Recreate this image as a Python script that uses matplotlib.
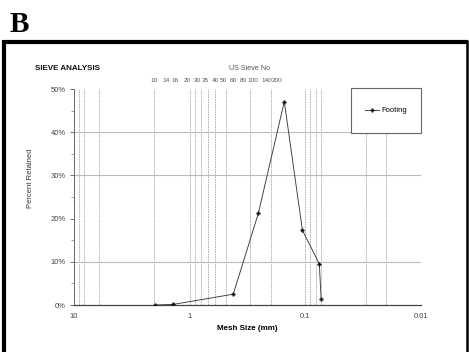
import numpy as np
import matplotlib
matplotlib.use("Agg")
import matplotlib.pyplot as plt
from matplotlib.lines import Line2D
from matplotlib.patches import Rectangle
from matplotlib.ticker import FixedLocator, NullFormatter

plt.rcParams['font.family'] = ['Liberation Sans', 'DejaVu Sans']

# ---- data ----
size_mm = [2.0, 1.38, 0.42, 0.255, 0.152, 0.106, 0.0757, 0.073]
retained_pct = [0.0, 0.15, 2.5, 21.2, 47.1, 17.3, 9.5, 1.4]
series_name = "Footing"

x_major = [10, 1, 0.1, 0.01]
x_major_labels = ["10", "1", "0.1", "0.01"]
x_grid_mm = [9.05, 8.19, 6.08, 2.03, 0.99, 0.90, 0.80, 0.69, 0.60, 0.49,
             0.30, 0.20, 0.10, 0.091, 0.081, 0.073, 0.030, 0.020, 0.01]
y_major = [0, 10, 20, 30, 40, 50]
y_major_labels = ["0%", "10%", "20%", "30%", "40%", "50%"]
y_minor = [5, 15, 25, 35, 45]
y_grid = [10, 30, 40]
sieve_labels = ["10", "14", "16", "20", "30", "35", "40", "50", "60", "80", "100", "140", "200"]
sieve_label_pos_mm = [2.03, 1.60, 1.34, 1.05, 0.861, 0.734, 0.601, 0.513, 0.420,
                      0.344, 0.282, 0.213, 0.175]

W, H = 469, 352
fig = plt.figure(figsize=(W / 100, H / 100), dpi=100)
fig.patch.set_facecolor('white')

L, R, T, B = 74, 421, 89, 305
ax = fig.add_axes([L / W, 1 - B / H, (R - L) / W, (B - T) / H])

ax.set_xscale('log')
ax.set_xlim(10, 0.01)
ax.set_ylim(0, 50)

for g in x_grid_mm:
    ax.axvline(g, color='#a8a8a8', lw=0.6, ls=(0, (2, 1)), zorder=1)
for g in y_grid:
    ax.axhline(g, color='#bcbcbc', lw=0.8, zorder=1)

ax.plot(size_mm, retained_pct, color='#3a3a3a', lw=0.65, marker='P', ms=2.6,
        mfc='#111111', mec='#111111', mew=0.3, label=series_name, zorder=3)

ax.xaxis.set_major_locator(FixedLocator(x_major))
ax.set_xticklabels(x_major_labels)
ax.xaxis.set_minor_locator(FixedLocator([]))
ax.xaxis.set_minor_formatter(NullFormatter())
ax.tick_params(axis='x', which='both', length=0, pad=6, labelsize=5.5, labelcolor='#444444')

ax.set_yticks(y_major)
ax.set_yticklabels(y_major_labels)
ax.yaxis.set_minor_locator(FixedLocator(y_minor))
ax.tick_params(axis='y', which='major', length=3, width=0.6, color='#555555',
               pad=3, labelsize=5.5, labelcolor='#444444')
ax.tick_params(axis='y', which='minor', length=2, width=0.5, color='#777777')

for s in ['top', 'right']:
    ax.spines[s].set_visible(False)
ax.spines['left'].set_color('#666666')
ax.spines['bottom'].set_color('#444444')
ax.spines['left'].set_linewidth(0.7)
ax.spines['bottom'].set_linewidth(0.9)

ax.set_xlabel("Mesh Size (mm)", fontsize=5.8, fontweight='bold', labelpad=3)
ax.set_ylabel("Percent Retained", fontsize=5.5, color='#333333')
ax.yaxis.set_label_coords(-(L - 34) / (R - L), (B - 178) / (B - T))

# secondary (top) axis with sieve numbers
ax2 = ax.twiny()
ax2.set_xscale('log')
ax2.set_xlim(10, 0.01)
ax2.xaxis.set_major_locator(FixedLocator(sieve_label_pos_mm))
ax2.set_xticklabels(sieve_labels)
ax2.xaxis.set_minor_locator(FixedLocator([]))
ax2.tick_params(axis='x', which='both', length=0, pad=4, labelsize=4.6, labelcolor='#555555')
for s in ax2.spines.values():
    s.set_visible(False)

fig.text(250 / W, 1 - 68 / H, "US Sieve No", fontsize=5.2, color='#555555',
         ha='center', va='center')
fig.text(35 / W, 1 - 69 / H, "SIEVE ANALYSIS", fontsize=5.8, fontweight='bold',
         ha='left', va='center', color='#111111')

# legend box
lx0, lx1, ly0, ly1 = 351, 421, 88, 133
ax.add_patch(Rectangle(((lx0 - L) / (R - L), (B - ly1) / (B - T)),
                       (lx1 - lx0) / (R - L), (ly1 - ly0) / (B - T),
                       transform=ax.transAxes, facecolor='white', edgecolor='#666666',
                       lw=0.8, clip_on=False, zorder=4))
leg = ax.legend(loc='center', bbox_to_anchor=((386 - L) / (R - L), (B - 110.5) / (B - T)),
                fontsize=5.5, frameon=False, borderpad=0,
                handlelength=1.8, handletextpad=0.3, borderaxespad=0)
leg.set_zorder(5)

# "B" panel letter
fig.text(10 / W, 1 - 24 / H, "B", fontsize=21, fontweight='bold',
         family=['Liberation Serif', 'DejaVu Serif'], ha='left', va='center')

# outer frame
def fline(x0, y0, x1, y1, lw):
    fig.add_artist(Line2D([x0 / W, x1 / W], [1 - y0 / H, 1 - y1 / H],
                          color='black', lw=lw, solid_capstyle='butt'))

fline(2, 42, 468, 42, 3.0)
fline(4, 40, 4, 352, 3.0)
fline(467, 40, 467, 352, 1.8)

fig.savefig("out.png", dpi=100)
